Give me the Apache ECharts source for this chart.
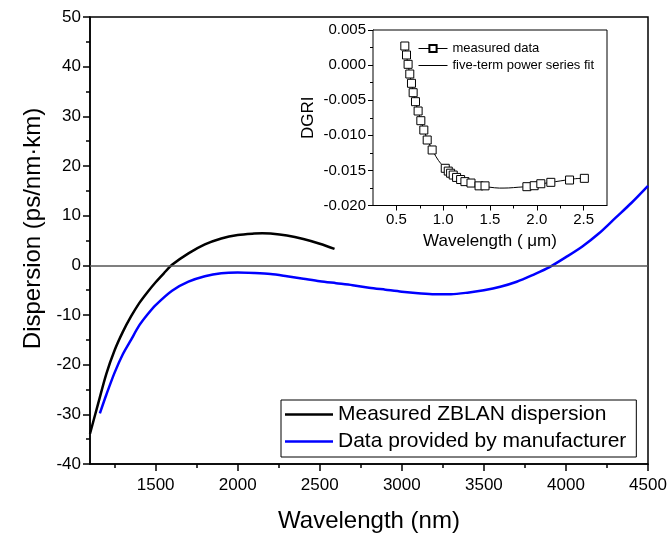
<!DOCTYPE html>
<html>
<head>
<meta charset="utf-8">
<script src="https://cdn.jsdelivr.net/npm/echarts@6/dist/echarts.min.js"></script>
<style>html,body{margin:0;padding:0;background:#fff;}#c{width:670px;height:538px;}</style>
</head>
<body>
<div id="c"></div>
<script>
// ---- main plot data (wavelength nm, dispersion ps/nm·km) ----
const blackWavelength = [1100,1150,1200,1250,1300,1350,1400,1450,1500,1550,1600,1700,1800,1900,2000,2100,2150,2200,2300,2400,2500,2590];
const blackDispersion = [-33.9,-27.8,-21.8,-17.1,-13.4,-10.3,-7.6,-5.4,-3.4,-1.6,0.1,2.4,4.2,5.4,6.1,6.4,6.45,6.4,6.0,5.3,4.35,3.3];
const blueWavelength = [1160,1200,1250,1300,1350,1400,1450,1500,1600,1700,1800,1900,2000,2100,2200,2300,2400,2500,2600,2700,2800,2900,3000,3100,3200,3300,3400,3500,3600,3700,3800,3900,4000,4100,4200,4300,4400,4500];
const blueDispersion = [-29.8,-26.0,-21.6,-17.9,-15.0,-12.1,-9.9,-8.0,-5.1,-3.3,-2.2,-1.6,-1.45,-1.55,-1.75,-2.2,-2.7,-3.2,-3.6,-4.0,-4.5,-4.9,-5.3,-5.6,-5.8,-5.8,-5.5,-5.0,-4.3,-3.3,-1.9,-0.35,1.65,3.8,6.4,9.5,12.6,16.0];
const mainXMajorTicks = [1500,2000,2500,3000,3500,4000,4500];
const mainXMinorTicks = [1250,1750,2250,2750,3250,3750,4250];

// ---- inset data (wavelength µm, DGRI) ----
const measuredWavelength = [0.59,0.608,0.625,0.643,0.661,0.679,0.704,0.732,0.761,0.793,0.829,0.882,1.022,1.054,1.079,1.107,1.143,1.186,1.232,1.297,1.383,1.447,1.894,1.972,2.043,2.150,2.350,2.508];
const measuredDGRI = [0.00272,0.00144,0.00011,-0.00127,-0.00259,-0.00393,-0.00521,-0.00654,-0.00792,-0.00925,-0.01067,-0.01209,-0.0147,-0.0151,-0.0154,-0.01566,-0.0160,-0.0163,-0.0166,-0.0168,-0.0172,-0.0172,-0.01732,-0.01718,-0.0169,-0.0167,-0.01637,-0.01613];
const fitWavelength = [0.59,0.6,0.65,0.7,0.75,0.8,0.85,0.9,0.95,1.0,1.05,1.1,1.2,1.3,1.4,1.5,1.6,1.7,1.8,1.9,2.0,2.1,2.2,2.3,2.4,2.51];
const fitDGRI = [0.0027,0.0019,-0.0018,-0.0050,-0.0074,-0.0095,-0.0112,-0.0125,-0.0136,-0.0144,-0.0150,-0.0156,-0.0164,-0.0168,-0.0172,-0.0174,-0.01752,-0.0175,-0.0174,-0.0173,-0.0171,-0.0168,-0.0166,-0.0164,-0.0162,-0.0161];
const insetXMajorTicks = [0.5,1.0,1.5,2.0,2.5];
const insetXMinorTicks = [0.75,1.25,1.75,2.25];

const FONT = 'Liberation Sans, Arial, sans-serif';
const zip = (a,b) => a.map((v,i)=>[v,b[i]]);

const chart = echarts.init(document.getElementById('c'), null, {renderer:'canvas'});
const axisLine = {show:true, onZero:false, lineStyle:{color:'#000', width:1.5}};
const insetAxisLine = {show:true, onZero:false, lineStyle:{color:'#000', width:1}};
const mainLegendLine = 'path://M0,0 L48,0 L48,2.5 L0,2.5 Z';
const insetLegendLine = 'path://M0,0 L29,0 L29,1 L0,1 Z';

chart.setOption({
  animation:false,
  backgroundColor:'#fff',
  textStyle:{fontFamily:FONT, color:'#000'},
  grid:[
    {left:90, right:22, top:17, bottom:71, show:true, borderColor:'#000', borderWidth:1.5, backgroundColor:'transparent'},
    {left:373, right:63, top:30, bottom:332.5, show:true, borderColor:'#000', borderWidth:1, backgroundColor:'#fff', z:5}
  ],
  legend:[
    {
      left:281, top:400, orient:'vertical',
      data:[{name:'Measured ZBLAN dispersion', icon:mainLegendLine},
            {name:'Data provided by manufacturer', icon:mainLegendLine}],
      borderColor:'#000', borderWidth:1, padding:[4,10,5,4],
      itemWidth:48, itemHeight:20, itemGap:6,
      textStyle:{fontSize:21, color:'#000', fontFamily:FONT}
    },
    {
      left:418, top:42, orient:'vertical', z:10,
      data:[{name:'measured data'}, {name:'five-term power series fit', icon:insetLegendLine}],
      padding:0, itemWidth:29, itemHeight:9, itemGap:4,
      lineStyle:{opacity:1, width:1, color:'#000'},
      textStyle:{fontSize:13, color:'#000', fontFamily:FONT}
    }
  ],
  xAxis:[
    {
      gridIndex:0, type:'value', min:1100, max:4500, position:'bottom',
      axisLine:axisLine,
      axisTick:{show:true, length:7, lineStyle:{color:'#000', width:1.5}, customValues:mainXMajorTicks},
      axisLabel:{fontSize:17, color:'#000', margin:13, fontFamily:FONT, customValues:mainXMajorTicks,
                 formatter:v=>String(v)},
      splitLine:{show:false},
      name:'Wavelength (nm)', nameLocation:'middle', nameGap:45,
      nameTextStyle:{fontSize:24, color:'#000', fontFamily:FONT}
    },
    {
      gridIndex:0, type:'value', min:1100, max:4500, position:'bottom', offset:0,
      axisLine:{show:false, onZero:false},
      axisTick:{show:true, length:4, lineStyle:{color:'#000', width:1.5}, customValues:mainXMinorTicks},
      axisLabel:{show:false},
      splitLine:{show:false}
    },
    {
      gridIndex:1, type:'value', min:0.25, max:2.75, position:'bottom',
      axisLine:insetAxisLine,
      axisTick:{show:true, length:5, lineStyle:{color:'#000', width:1}, customValues:insetXMajorTicks},
      axisLabel:{fontSize:15, color:'#000', margin:7, fontFamily:FONT, customValues:insetXMajorTicks,
                 formatter:v=>v.toFixed(1)},
      splitLine:{show:false},
      name:'Wavelength ( \u03BCm)', nameLocation:'middle', nameGap:27,
      nameTextStyle:{fontSize:17, color:'#000', fontFamily:FONT}
    },
    {
      gridIndex:1, type:'value', min:0.25, max:2.75, position:'bottom', offset:0,
      axisLine:{show:false, onZero:false},
      axisTick:{show:true, length:3, lineStyle:{color:'#000', width:1}, customValues:insetXMinorTicks},
      axisLabel:{show:false},
      splitLine:{show:false}
    }
  ],
  yAxis:[
    {
      gridIndex:0, type:'value', min:-40, max:50, interval:10,
      axisLine:axisLine,
      axisTick:{show:true, length:7, lineStyle:{color:'#000', width:1.5}},
      minorTick:{show:true, splitNumber:2, length:4, lineStyle:{color:'#000', width:1.5}},
      splitLine:{show:false}, minorSplitLine:{show:false},
      axisLabel:{fontSize:17, color:'#000', margin:9, fontFamily:FONT},
      name:'Dispersion (ps/nm\u00B7km)', nameLocation:'middle', nameGap:40, nameRotate:90,
      nameTextStyle:{fontSize:24, color:'#000', fontFamily:FONT, padding:[0,0,0,24]}
    },
    {
      gridIndex:1, type:'value', min:-0.02, max:0.005, interval:0.005,
      axisLine:insetAxisLine,
      axisTick:{show:true, length:5, lineStyle:{color:'#000', width:1}},
      minorTick:{show:true, splitNumber:2, length:3, lineStyle:{color:'#000', width:1}},
      splitLine:{show:false}, minorSplitLine:{show:false},
      axisLabel:{fontSize:15, color:'#000', margin:7, fontFamily:FONT,
                 formatter:v=>(Math.abs(v)<1e-9?0:v).toFixed(3)},
      name:'DGRI', nameLocation:'middle', nameGap:56, nameRotate:90,
      nameTextStyle:{fontSize:17, color:'#000', fontFamily:FONT}
    }
  ],
  series:[
    {
      name:'Measured ZBLAN dispersion', type:'line', xAxisIndex:0, yAxisIndex:0,
      data:zip(blackWavelength, blackDispersion), smooth:0.3, symbol:'none',
      lineStyle:{color:'#000', width:2.5}, itemStyle:{color:'#000'}
    },
    {
      name:'Data provided by manufacturer', type:'line', xAxisIndex:0, yAxisIndex:0,
      data:zip(blueWavelength, blueDispersion), smooth:0.3, symbol:'none',
      lineStyle:{color:'#0000ff', width:2.5}, itemStyle:{color:'#0000ff'},
      markLine:{silent:true, symbol:'none', label:{show:false},
        lineStyle:{color:'#555', width:1.5, type:'solid'}, data:[{yAxis:0}]}
    },
    {
      name:'five-term power series fit', type:'line', xAxisIndex:2, yAxisIndex:1, z:6,
      data:zip(fitWavelength, fitDGRI), smooth:0.3, symbol:'none',
      lineStyle:{color:'#000', width:1}, itemStyle:{color:'#000'}
    },
    {
      name:'measured data', type:'line', xAxisIndex:2, yAxisIndex:1, z:7,
      data:zip(measuredWavelength, measuredDGRI), symbol:'rect', symbolSize:8, showSymbol:true,
      lineStyle:{opacity:0, width:1, color:'#000'},
      itemStyle:{color:'#fff', borderColor:'#000', borderWidth:1}
    }
  ]
});
</script>
</body>
</html>
